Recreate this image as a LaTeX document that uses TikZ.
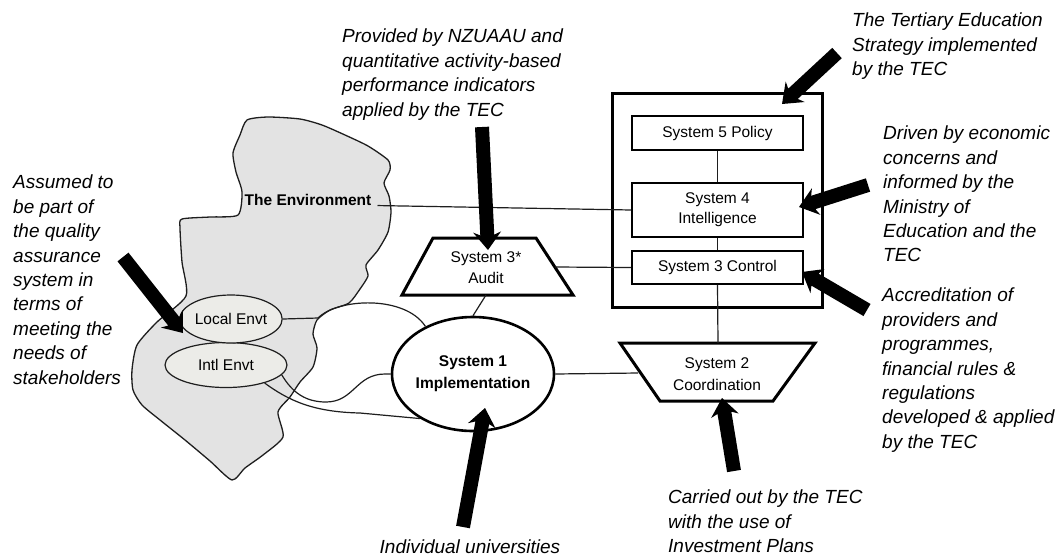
\documentclass[tikz,border=0pt]{standalone}
\usepackage{fontspec}
\setmainfont{Liberation Sans}
\usetikzlibrary{calc,shapes.geometric}

\definecolor{envgrey}{HTML}{E3E3E3}
\definecolor{ellgrey}{HTML}{ECECE8}
\definecolor{ink}{HTML}{1E1E1E}

\tikzset{
  link/.style={draw=ink, line width=1.2pt},
  heavy/.style={draw=black, line width=3pt, line join=miter},
  boxlabel/.style={font=\fontsize{15.5}{21}\selectfont, align=center, inner sep=0pt},
  sysbox/.style={draw=black, line width=1.6pt, fill=white, minimum width=171pt,
    inner sep=0pt, align=center, font=\fontsize{15.5}{20}\selectfont},
  envell/.style={ellipse, draw=ink, line width=1.2pt, fill=ellgrey, inner sep=0pt,
    font=\fontsize{15.5}{18}\selectfont},
  note/.style={font=\itshape\fontsize{19}{24.4}\selectfont, align=left,
    anchor=north west, inner sep=0pt},
}

% thick block arrow: #1 tail, #2 tip, #3 name prefix
\newcommand\fatarrow[3]{%
  \coordinate (#3h) at ($(#2)!18pt!(#1)$);
  \coordinate (#3s) at ($(#2)!15pt!(#1)$);
  \fill[black] (#2)
    -- ($(#3h)!14pt!90:(#2)$) -- ($(#3s)!7pt!90:(#2)$)
    -- ($(#1)!7pt!90:(#2)$) -- ($(#1)!7pt!-90:(#2)$)
    -- ($(#3s)!7pt!-90:(#2)$) -- ($(#3h)!14pt!-90:(#2)$) -- cycle;
}

\begin{document}
\begin{tikzpicture}[x=1pt, y=-1pt]
\useasboundingbox (0,0) rectangle (1063,558);
\fill[white] (0,0) rectangle (1063,558);

% the environment
\draw[line width=1.3pt, draw=ink, fill=envgrey] plot[smooth cycle, tension=0.4] coordinates {
  (247,120) (268,117) (300,119) (322,125) (345,135) (368,146) (388,160)
  (390,170) (384,183) (389,196) (391,212) (388,232) (378,250) (366,265)
  (368,276) (360,289) (349,303) (330,310) (317,320) (313,334) (317,348)
  (313,367) (300,382) (290,397) (278,412) (283,437) (263,455) (245,468)
  (232,480) (210,461) (185,440) (160,420) (142,405) (133,390) (132,370)
  (137,345) (157,322) (186,296) (182,262) (180,228) (182,219) (210,217)
  (238,215) (242,192) (236,172) (233,153) (240,135)};
\node[font=\bfseries\fontsize{15.5}{18}\selectfont, inner sep=0pt] (envlabel) at (308,200) {The Environment};

% local and international environment
\node[envell, minimum width=122pt, minimum height=45pt] (intl) at (226,365) {Intl Envt};
\node[envell, minimum width=92pt, minimum height=48pt] (local) at (231,319) {Local Envt};

% system 1
\node[ellipse, draw=black, line width=2.6pt, fill=white, minimum width=124pt,
  minimum height=114pt, inner sep=0pt, align=center,
  font=\bfseries\fontsize{15.5}{22}\selectfont] (s1) at (473,374) {System 1\\Implementation};

% links from the environment to system 1
\coordinate (envgap) at (318,318);
\draw[link] (local.east) -- (envgap) .. controls (338,298) and (405,295) .. (s1.135);
\draw[link] (s1.180) -- (385,374) .. controls (356,374) and (354,402) .. (326,402)
  .. controls (305,402) and (292,392) .. (intl.-10);
\draw[link] (intl.-25) .. controls (288,400) and (312,412) .. (360,413) -- (s1.220);

% management box with systems 5, 4 and 3
\node[draw=black, line width=3pt, minimum width=210pt, minimum height=214pt, inner sep=0pt] (mgmt) at (717,200) {};
\node[sysbox, minimum height=34pt] (s5) at (717.5,133) {System 5 Policy};
\node[sysbox, minimum height=54pt] (s4) at (717.5,210) {System 4\\Intelligence};
\node[sysbox, minimum height=33pt] (s3) at (717.5,267.5) {System 3 Control};

% system 3* audit
\draw[heavy, fill=white] (433,238) -- (536,238) -- (573,295) -- (402,295) -- cycle;
\node[boxlabel] (audit) at (486,268) {System 3*\\Audit};
\coordinate (auditS) at (486,295);
\coordinate (auditE) at (555,267);

% system 2 coordination
\draw[heavy, fill=white] (620,343) -- (815,343) -- (773,401) -- (660,401) -- cycle;
\node[boxlabel, font=\fontsize{15.5}{22}\selectfont] (s2) at (717,374) {System 2\\Coordination};
\coordinate (s2N) at (718,343);
\coordinate (s2W) at (638,373);

% connectors
\draw[link] (s5.south) -- (s4.north);
\draw[link] (s4.south) -- (s3.north);
\draw[link] (s3.south) -- (s2N);
\draw[link] (auditE) -- (s3.west);
\draw[link] (auditS) -- (s1.north);
\draw[link] (s1.east) -- (s2W);
\draw[link] ([xshift=6pt]envlabel.base east) -- (s4.west);

% annotations
\node[note] (nAss) at (13,175) {Assumed to\\be part of\\the quality\\assurance\\system in\\terms of\\meeting the\\needs of\\stakeholders};
\node[note] (nNZ) at (342,29) {Provided by NZUAAU and\\quantitative activity-based\\performance indicators\\applied by the TEC};
\node[note] (nTES) at (852,13) {The Tertiary Education\\Strategy implemented\\by the TEC};
\node[note] (nDrv) at (883,126) {Driven by economic\\concerns and\\informed by the\\Ministry of\\Education and the\\TEC};
\node[note] (nAcc) at (882,288) {Accreditation of\\providers and\\programmes,\\financial rules \&\\regulations\\developed \& applied\\by the TEC};
\node[note] (nCar) at (668,490) {Carried out by the TEC\\with the use of\\Investment Plans};
\node[note, anchor=north] (nInd) at (470,540) {Individual universities};

% block arrows
\coordinate (aAssT) at (123,257);  \coordinate (aAssH) at (183,333);
\coordinate (aNZT) at (482,127);   \coordinate (aNZH) at (488,250);
\coordinate (aTEST) at (837,53);   \coordinate (aTESH) at (782,104);
\coordinate (aDrvT) at (868,185);  \coordinate (aDrvH) at (799,207);
\coordinate (aAccT) at (867,310);  \coordinate (aAccH) at (802,272);
\coordinate (aCarT) at (734,471);  \coordinate (aCarH) at (722,398);
\coordinate (aIndT) at (463,527);  \coordinate (aIndH) at (485,408);
\fatarrow{aAssT}{aAssH}{pa}
\fatarrow{aNZT}{aNZH}{pb}
\fatarrow{aTEST}{aTESH}{pc}
\fatarrow{aDrvT}{aDrvH}{pd}
\fatarrow{aAccT}{aAccH}{pe}
\fatarrow{aCarT}{aCarH}{pf}
\fatarrow{aIndT}{aIndH}{pg}
\end{tikzpicture}
\end{document}
